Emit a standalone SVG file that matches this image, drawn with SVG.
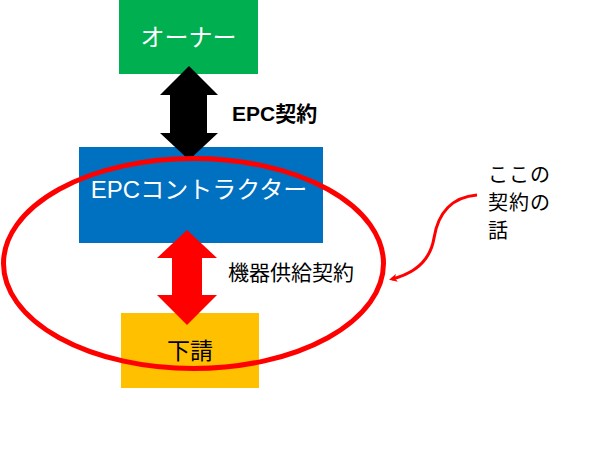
<svg xmlns="http://www.w3.org/2000/svg" width="596" height="472" viewBox="0 0 596 472">
<style>
text{font-family:"Liberation Sans","Noto Sans CJK JP",sans-serif;}
.w{fill:#fff;font-size:24px;text-anchor:middle;}
.b{fill:#000;font-size:20px;}
</style>
<defs>
<marker id="ah" markerWidth="8" markerHeight="8" refX="5" refY="4" orient="auto" markerUnits="userSpaceOnUse">
<path d="M0,0 L8,4 L0,8 L2,4 z" fill="#FF0000"/>
</marker>
</defs>
<rect width="596" height="472" fill="#fff"/>
<g id="owner">
<rect x="119" y="0" width="139" height="74" fill="#00B050"/>
<text class="w" x="188.5" y="46">オーナー</text>
</g>
<g id="epc">
<rect x="79" y="147" width="244" height="96" fill="#0070C0"/>
<text class="w" x="199" y="198">EPCコントラクター</text>
</g>
<g id="sub">
<rect x="121" y="313" width="138" height="75" fill="#FFC000"/>
<text x="190" y="359" style="font-size:23px;text-anchor:middle;fill:#000">下請</text>
</g>
<g id="connectors">
<polygon points="189,66 218,95 207,95 207,133 218,133 189,160 160,133 170,133 170,95 160,95" fill="#000"/>
<text x="232" y="121" style="font-size:21px;font-weight:bold;fill:#000">EPC契約</text>
<polygon points="187,230 217,258 202,258 202,295 217,295 187,325 157,295 172,295 172,258 157,258" fill="#FF0000"/>
<text x="228" y="280" style="font-size:21px;fill:#000">機器供給契約</text>
<ellipse cx="193.5" cy="263.5" rx="190" ry="105" fill="none" stroke="#FF0000" stroke-width="5"/>
<path d="M477,195 C452,197 438,213 434,238 C430,262 412,274 392,279" fill="none" stroke="#FF0000" stroke-width="3" marker-end="url(#ah)"/>
</g>
<g id="note">
<text class="b" x="488" y="182" style="letter-spacing:1px">ここの</text>
<text class="b" x="488" y="210" style="letter-spacing:1px">契約の</text>
<text class="b" x="488" y="238">話</text>
</g>
</svg>
